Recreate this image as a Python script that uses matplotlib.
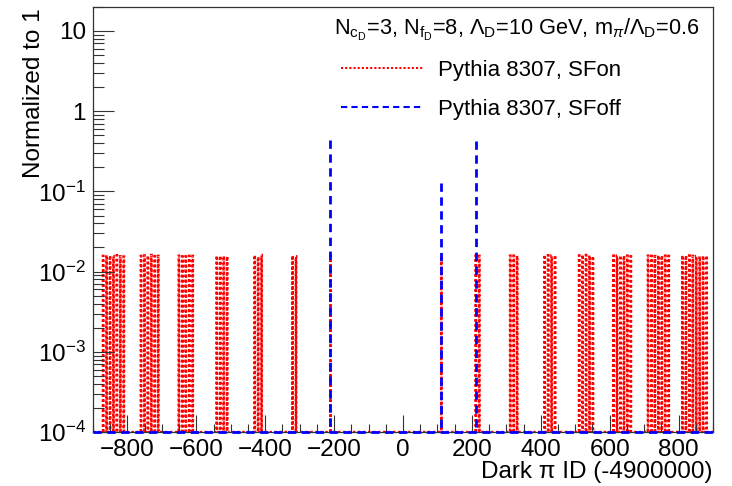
"""
Dark pion ID distribution: SFon vs SFoff (ROOT style plot)
"""

import numpy as np
import matplotlib
matplotlib.use('Agg')
import matplotlib.pyplot as plt
from matplotlib.ticker import FixedLocator, FuncFormatter, MultipleLocator

plt.rcParams['font.family'] = ['Liberation Sans', 'DejaVu Sans']
plt.rcParams['mathtext.fontset'] = 'custom'
plt.rcParams['mathtext.rm'] = 'Liberation Sans'
plt.rcParams['mathtext.it'] = 'Liberation Sans:italic'
plt.rcParams['mathtext.sf'] = 'Liberation Sans'

# ── data ──
# dark pion IDs (minus 4900000) and normalized fractions
sfon_ids = [
    -871, -861, -851, -841, -831, -821, -811,
    -761, -751, -741, -731, -721, -711,
    -651, -641, -631, -621, -611,
    -541, -531, -521, -511,
    -431, -421, -411,
    -321, -311,
    -211,
    111,
    211, 221,
    311, 321, 331,
    411, 421, 431, 441,
    511, 521, 531, 541, 551,
    611, 621, 631, 641, 651, 661,
    711, 721, 731, 741, 751, 761, 771,
    811, 821, 831, 841, 851, 861, 871, 881,
]
sfon_vals = [
    0.0157, 0.0160, 0.0158, 0.0156, 0.0160, 0.0155, 0.0154,
    0.0157, 0.0159, 0.0158, 0.0161, 0.0156, 0.0157,
    0.0158, 0.0155, 0.0155, 0.0157, 0.0157,
    0.0157, 0.0157, 0.0156, 0.0154,
    0.0160, 0.0152, 0.0161,
    0.0158, 0.0155,
    0.0157,
    0.0156,
    0.0158, 0.0157,
    0.0158, 0.0158, 0.0157,
    0.0161, 0.0160, 0.0158, 0.0159,
    0.0159, 0.0161, 0.0161, 0.0159, 0.0155,
    0.0158, 0.0158, 0.0158, 0.0157, 0.0158, 0.0155,
    0.0158, 0.0157, 0.0156, 0.0159, 0.0158, 0.0158, 0.0157,
    0.0159, 0.0158, 0.0159, 0.0157, 0.0156, 0.0155, 0.0157, 0.0158,
]
sfoff_ids = [-211, 111, 211]
sfoff_vals = [0.44, 0.126, 0.43]

x_lo, x_hi = -900, 900
y_lo, y_hi = 1e-4, 20


def to_hist(ids, vals):
    # 1-unit bins, empty bins sit on the lower edge of the log axis
    edges = np.arange(x_lo, x_hi + 1, 1.0)
    h = np.full(len(edges) - 1, y_lo)
    for i, v in zip(ids, vals):
        h[int(i - x_lo)] = v
    return edges, h


def ylab(v, pos):
    if v >= 10:
        return "10"
    if v >= 1:
        return "1"
    return r"$10^{%d}$" % int(round(np.log10(v)))


def main():
    fig = plt.figure(figsize=(7.32, 4.86), dpi=100)
    ax = fig.add_axes([0.127, 0.111, 0.847, 0.875])

    red_ls = (0, (1, 1))
    blue_ls = (0, (3, 2))

    # SFon: step histogram
    e1, h1 = to_hist(sfon_ids, sfon_vals)
    ax.stairs(h1, e1, color='#ff0000', lw=1.8, ls=red_ls, baseline=None)

    # SFoff: only three filled bins -> spikes + empty baseline
    ax.axhline(y_lo, color='#0000ff', lw=2.0, ls=blue_ls, clip_on=False, zorder=3)
    # drawn top-down so the dash pattern starts at the peak
    ax.vlines(sfoff_ids, sfoff_vals, y_lo, color='#0000ff', lw=2.0, ls=blue_ls,
              zorder=3)

    ax.set_yscale('log')
    ax.set_xlim(x_lo, x_hi)
    ax.set_ylim(y_lo, y_hi)

    ax.xaxis.set_major_locator(MultipleLocator(200))
    ax.xaxis.set_minor_locator(MultipleLocator(50))
    ax.yaxis.set_major_locator(FixedLocator([1e-4, 1e-3, 1e-2, 1e-1, 1, 10]))
    minors = [m * 10.0 ** d for d in range(-4, 2) for m in range(2, 10)]
    ax.yaxis.set_minor_locator(FixedLocator(minors))
    ax.yaxis.set_major_formatter(FuncFormatter(ylab))
    ax.yaxis.set_minor_formatter(FuncFormatter(lambda v, p: ""))

    ax.tick_params(axis='both', which='both', direction='in', top=False,
                   right=False, labelsize=17.5, width=0.8, color='#333333')
    ax.tick_params(axis='y', which='major', length=15, pad=5)
    ax.tick_params(axis='y', which='minor', length=8)
    ax.tick_params(axis='x', which='major', length=12, pad=5)
    ax.tick_params(axis='x', which='minor', length=6)
    for sp in ax.spines.values():
        sp.set_linewidth(0.9)
        sp.set_color('#333333')

    ax.set_xlabel("Dark π ID (-4900000)", fontsize=17.5, loc='right', labelpad=0)
    ax.set_ylabel("Normalized to 1", fontsize=17.5, loc='top')
    ax.yaxis.set_label_coords(-0.077, 0.996)

    ax.text(0.979, 0.946,
            r"N$_{\mathrm{c}_{\mathrm{D}}}$=3, N$_{\mathrm{f}_{\mathrm{D}}}$=8, "
            r"$\Lambda_{\mathrm{D}}$=10 GeV, m$_{\pi}$/$\Lambda_{\mathrm{D}}$=0.6",
            transform=ax.transAxes, ha='right', va='center', fontsize=15.7)

    h_on, = ax.plot([], [], color='#ff0000', lw=1.5, ls=red_ls)
    h_off, = ax.plot([], [], color='#0000ff', lw=1.5, ls=blue_ls)
    ax.legend([h_on, h_off], ["Pythia 8307, SFon", "Pythia 8307, SFoff"],
              loc='upper left', bbox_to_anchor=(0.385, 0.896), frameon=False,
              borderaxespad=0, fontsize=16, handlelength=3.7,
              handletextpad=0.7, labelspacing=0.8)

    plt.savefig("out.png", dpi=100)
    plt.close()


if __name__ == "__main__":
    main()
